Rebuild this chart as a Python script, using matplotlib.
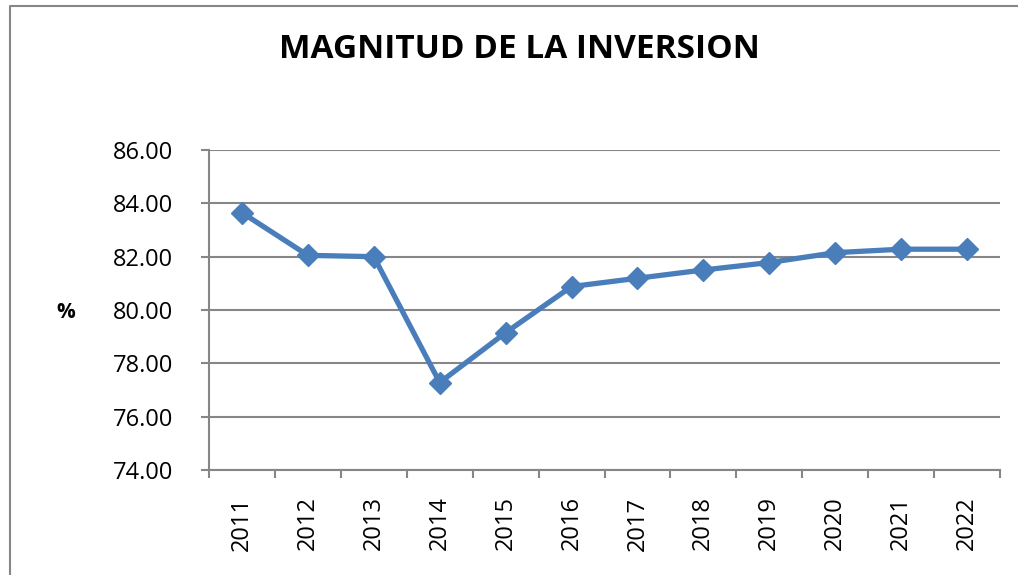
import numpy as np
from matplotlib import pyplot as plt
from matplotlib.lines import Line2D

years = ['2011', '2012', '2013', '2014', '2015', '2016',
         '2017', '2018', '2019', '2020', '2021', '2022']
magnitud = [83.65, 82.05, 82.00, 77.28, 79.15, 80.88,
            81.19, 81.50, 81.78, 82.15, 82.28, 82.28]
y_ticks = [74, 76, 78, 80, 82, 84, 86]

plt.rcParams['font.family'] = ['Open Sans', 'DejaVu Sans']

fig = plt.figure(figsize=(10.18, 5.75), dpi=100)
ax = fig.add_axes([209 / 1018, 1 - 470 / 575, 791 / 1018, 320 / 575])

x = np.arange(len(years))
ax.plot(x, magnitud, color='#4a7ebb', linewidth=3.8, marker='D',
        markersize=11.5, zorder=3)

ax.set_xlim(-0.5, len(years) - 0.5)
ax.set_ylim(74, 86)
ax.set_yticks(y_ticks)
ax.set_yticklabels([f'{v:.2f}' for v in y_ticks], fontsize=17)
ax.set_xticks(x)
ax.set_xticklabels(years, rotation=90, fontsize=17)
ax.set_xticks(np.arange(-0.5, len(years)), minor=True)
ax.tick_params(axis='x', which='major', length=0, pad=19)
ax.tick_params(axis='x', which='minor', length=6, width=1.5, color='#868686')
ax.tick_params(axis='y', length=6, width=1.5, color='#868686', pad=20)

ax.grid(axis='y', color='#868686', linewidth=1.5)
ax.set_axisbelow(True)
for side in ['top', 'right']:
    ax.spines[side].set_visible(False)
for side in ['left', 'bottom']:
    ax.spines[side].set_color('#868686')
    ax.spines[side].set_linewidth(1.5)

fig.text(519 / 1018, 1 - 50 / 575, 'MAGNITUD DE LA INVERSION',
         ha='center', va='center', fontsize=24, fontweight='bold')
fig.text(66 / 1018, 1 - 313 / 575, '%', ha='center', va='center',
         fontsize=15, fontweight='bold')

# outer frame of the chart (only left and top edges are visible)
fig.add_artist(Line2D([9.5 / 1018, 9.5 / 1018, 1.0], [0, 1 - 6 / 575, 1 - 6 / 575],
                      transform=fig.transFigure, color='#868686', linewidth=1.5))

fig.savefig('out.png', dpi=100)
